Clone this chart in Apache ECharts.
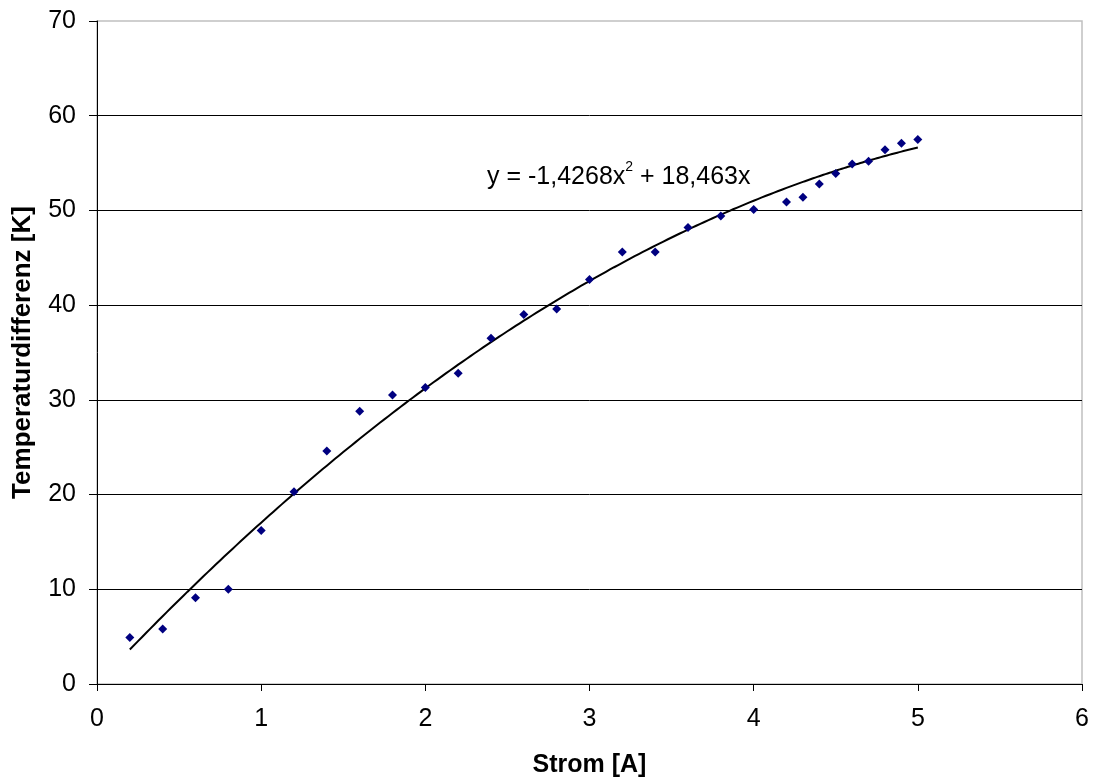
<!DOCTYPE html>
<html>
<head>
<meta charset="utf-8">
<script src="https://cdn.jsdelivr.net/npm/echarts@6/dist/echarts.min.js"></script>
<style>
  html, body { margin: 0; padding: 0; background: #fff; }
  #main { width: 1096px; height: 780px; }
</style>
</head>
<body>
<div id="main"></div>
<script>
// Messwerte
const strom = [0.2, 0.4, 0.6, 0.8, 1.0, 1.2, 1.4, 1.6, 1.8, 2.0, 2.2, 2.4, 2.6, 2.8, 3.0,
  3.2, 3.4, 3.6, 3.8, 4.0, 4.2, 4.3, 4.4, 4.5, 4.6, 4.7, 4.8, 4.9, 5.0]
const tempDiff = [4.9, 5.8, 9.1, 10.0, 16.2, 20.3, 24.6, 28.8, 30.5, 31.3, 32.8, 36.5, 39.0, 39.6, 42.7,
  45.6, 45.6, 48.2, 49.4, 50.1, 50.9, 51.4, 52.8, 53.9, 54.9, 55.2, 56.4, 57.1, 57.5]

// Trendlinie (polynomisch, aus der Beschriftung)
const coefA = -1.4268
const coefB = 18.463
const trendX = strom

const xTicks = [0, 1, 2, 3, 4, 5, 6]
const yTicks = [0, 10, 20, 30, 40, 50, 60, 70]

const font = '"Liberation Sans", Arial, sans-serif'

const chart = echarts.init(document.getElementById('main'))

// Punkte der Trendlinie, feiner abgetastet damit sie glatt aussieht
const trendData = []
for (let i = 0; i < trendX.length - 1; i++) {
  const a = trendX[i]
  const b = trendX[i + 1]
  for (let k = 0; k < 4; k++) {
    const x = a + (b - a) * k / 4
    trendData.push([x, coefA * x * x + coefB * x])
  }
}
const xe = trendX[trendX.length - 1]
trendData.push([xe, coefA * xe * xe + coefB * xe])

const option = {
  animation: false,
  backgroundColor: '#fff',
  grid: {
    left: 97,
    right: 14,
    top: 21,
    bottom: 96,
    outerBoundsMode: 'none',
    containLabel: false,
    show: true,
    borderColor: '#c0c0c0',
    borderWidth: 1.5,
    backgroundColor: '#fff'
  },
  xAxis: {
    type: 'value',
    min: xTicks[0],
    max: xTicks[xTicks.length - 1],
    interval: 1,
    name: 'Strom [A]',
    nameLocation: 'middle',
    nameGap: 69,
    nameTextStyle: { fontFamily: font, fontSize: 25, fontWeight: 'bold', color: '#000' },
    axisLine: { show: true, onZero: false, lineStyle: { color: '#000', width: 1 } },
    axisTick: { show: true, length: 7, lineStyle: { color: '#000' } },
    axisLabel: { fontFamily: font, fontSize: 25, color: '#000', margin: 23 },
    splitLine: { show: false }
  },
  yAxis: {
    type: 'value',
    min: yTicks[0],
    max: yTicks[yTicks.length - 1],
    interval: 10,
    name: 'Temperaturdifferenz [K]',
    nameLocation: 'middle',
    nameGap: 61,
    nameTextStyle: { fontFamily: font, fontSize: 26, fontWeight: 'bold', color: '#000' },
    axisLine: { show: true, onZero: false, lineStyle: { color: '#000', width: 1 } },
    axisTick: { show: true, length: 8, lineStyle: { color: '#000' } },
    axisLabel: { fontFamily: font, fontSize: 25, color: '#000', margin: 21 },
    splitLine: { show: true, showMaxLine: false, lineStyle: { color: '#000', width: 1 } }
  },
  graphic: [{
    type: 'text',
    left: 487,
    top: 160,
    style: {
      text: '{a|y = -1,4268x}{s|2}{a| + 18,463x}',
      rich: {
        a: { fontFamily: font, fontSize: 25, fill: '#000', verticalAlign: 'bottom', lineHeight: 30 },
        s: { fontFamily: font, fontSize: 14, fill: '#000', verticalAlign: 'top', padding: [0, 0, 14, 0], lineHeight: 30 }
      }
    }
  }],
  series: [
    {
      name: 'Trend',
      type: 'line',
      data: trendData,
      showSymbol: false,
      smooth: true,
      lineStyle: { color: '#000', width: 2 },
      z: 3
    },
    {
      name: 'Messwerte',
      type: 'scatter',
      data: strom.map((x, i) => [x, tempDiff[i]]),
      symbol: 'diamond',
      symbolSize: 9,
      itemStyle: { color: '#000080', opacity: 1 },
      z: 4
    }
  ]
}

chart.setOption(option)
</script>
</body>
</html>
